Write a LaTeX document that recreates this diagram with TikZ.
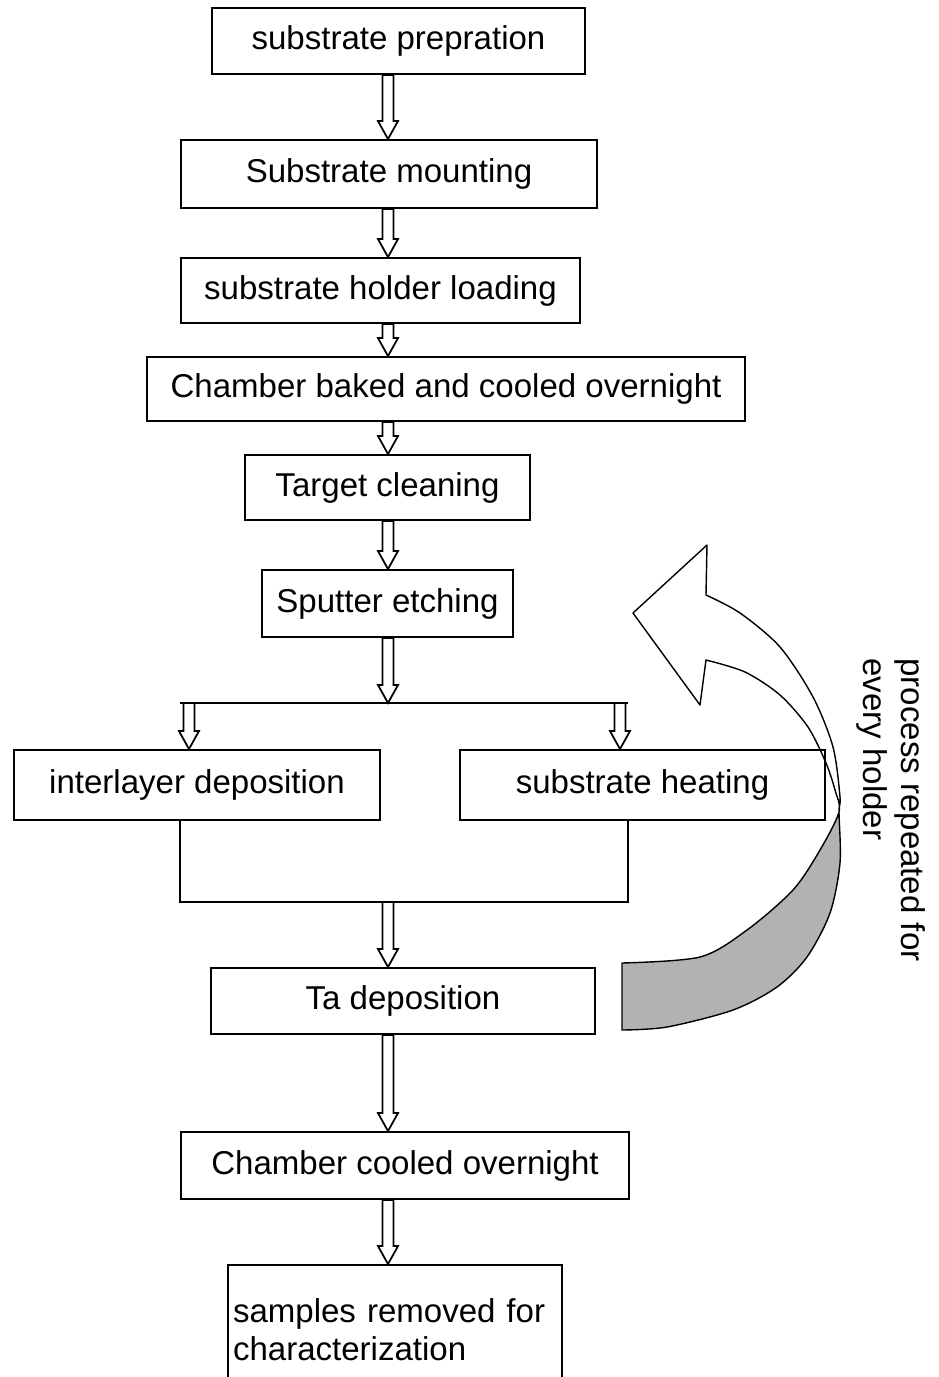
\documentclass[tikz,border=0pt]{standalone}
\usepackage{fontspec}
\setmainfont{Liberation Sans}
\usetikzlibrary{calc}
\tikzset{
  stepbox/.style={draw,line width=1.1pt,inner sep=0pt,align=center,
                  font=\fontsize{18.8}{21.6}\selectfont},
  fat/.style={draw,fill=white,line width=1pt,line join=miter,
    to path={let \p1=(\tikztostart),\p2=(\tikztotarget) in
      (\x1-1.1mm,\y1) -- (\x1-1.1mm,\y2+3.6mm) -- (\x1-2mm,\y2+3.6mm) -- (\x1,\y2)
      -- (\x1+2mm,\y2+3.6mm) -- (\x1+1.1mm,\y2+3.6mm) -- (\x1+1.1mm,\y1) -- cycle}},
  link/.style={line width=1.1pt},
  loopband/.style={line width=0.8pt,line join=round},
  note/.style={font=\fontsize{18.8}{21.6}\selectfont,align=left,inner sep=0pt}
}
\begin{document}
\begin{tikzpicture}[x=0.02cm,y=-0.02cm]
  \clip (0,0) rectangle (939,1377);
  \coordinate (axis) at (388,0);
  % process steps
  \node[stepbox,minimum width=7.46cm,minimum height=1.32cm] (s1) at (398.5,41) {substrate prepration};
  \node[stepbox,minimum width=8.32cm,minimum height=1.36cm] (s2) at (389,174) {Substrate mounting};
  \node[stepbox,minimum width=7.98cm,minimum height=1.30cm] (s3) at (380.5,290.5) {substrate holder loading};
  \node[stepbox,minimum width=11.96cm,minimum height=1.28cm] (s4) at (446,389) {Chamber baked and cooled overnight};
  \node[stepbox,minimum width=5.70cm,minimum height=1.30cm] (s5) at (387.5,487.5) {Target cleaning};
  \node[stepbox,minimum width=5.02cm,minimum height=1.34cm] (s6) at (387.5,603.5) {Sputter etching};
  \node[stepbox,minimum width=7.32cm,minimum height=1.40cm] (s7) at (197,785) {interlayer deposition};
  \node[stepbox,minimum width=7.30cm,minimum height=1.40cm] (s8) at (642.5,785) {substrate heating};
  \node[stepbox,minimum width=7.68cm,minimum height=1.32cm] (s9) at (403,1001) {Ta deposition};
  \node[stepbox,minimum width=8.96cm,minimum height=1.34cm] (s10) at (405,1165.5) {Chamber cooled overnight};
  \node[stepbox,align=left,inner xsep=0.1cm,text width=6.48cm,minimum height=2.60cm] (s11) at (395,1330) {samples removed for\\characterization};

  % split and join
  \coordinate (splitL) at (180,703);
  \coordinate (splitR) at (628,703);
  \coordinate (tapL) at (189,703);
  \coordinate (tapR) at (620,703);
  \coordinate (joinL) at (180,902);
  \coordinate (joinR) at (628,902);
  \draw[link] (splitL) -- (splitR);
  \draw[link] (s7.south -| joinL) -- (joinL) -- (joinR) -- (s8.south -| joinR);

  % arrows
  \draw[fat] (s1.south -| axis) to (s2.north -| axis);
  \draw[fat] (s2.south -| axis) to (s3.north -| axis);
  \draw[fat] (s3.south -| axis) to (s4.north -| axis);
  \draw[fat] (s4.south -| axis) to (s5.north -| axis);
  \draw[fat] (s5.south -| axis) to (s6.north -| axis);
  \draw[fat] (s6.south -| axis) to (axis |- splitL);
  \draw[fat] (tapL) to (s7.north -| tapL);
  \draw[fat] (tapR) to (s8.north -| tapR);
  \draw[fat] (axis |- joinL) to (s9.north -| axis);
  \draw[fat] (s9.south -| axis) to (s10.north -| axis);
  \draw[fat] (s10.south -| axis) to (s11.north -| axis);

  % loop-back arrow
  \coordinate (twist) at (839,812);
  \fill[black!30] (twist) -- plot[smooth] coordinates {(839,812) (840,863) (830,913) (807,957) (777,987) (733,1010) (667,1027) (622,1030)}
    -- (622,963) -- plot[smooth] coordinates {(622,963) (700,957) (747,930) (793,890) (820,850) (839,812)} -- cycle;
  \draw[loopband] (633,613) -- (707,545) -- (706,595)
    -- plot[smooth] coordinates {(706,595) (740,613) (780,647) (813,697) (833,747) (840,797) (839,812) (840,863) (830,913) (807,957) (777,987) (733,1010) (667,1027) (622,1030)}
    -- (622,963)
    -- plot[smooth] coordinates {(622,963) (700,957) (747,930) (793,890) (820,850) (839,812) (835,790) (826,763) (808,727) (780,695) (745,672) (706,660)}
    -- (700,705) -- cycle;
  \node[note,rotate=-90] (loop) at (891,810) {process repeated for\\every holder};
\end{tikzpicture}
\end{document}
